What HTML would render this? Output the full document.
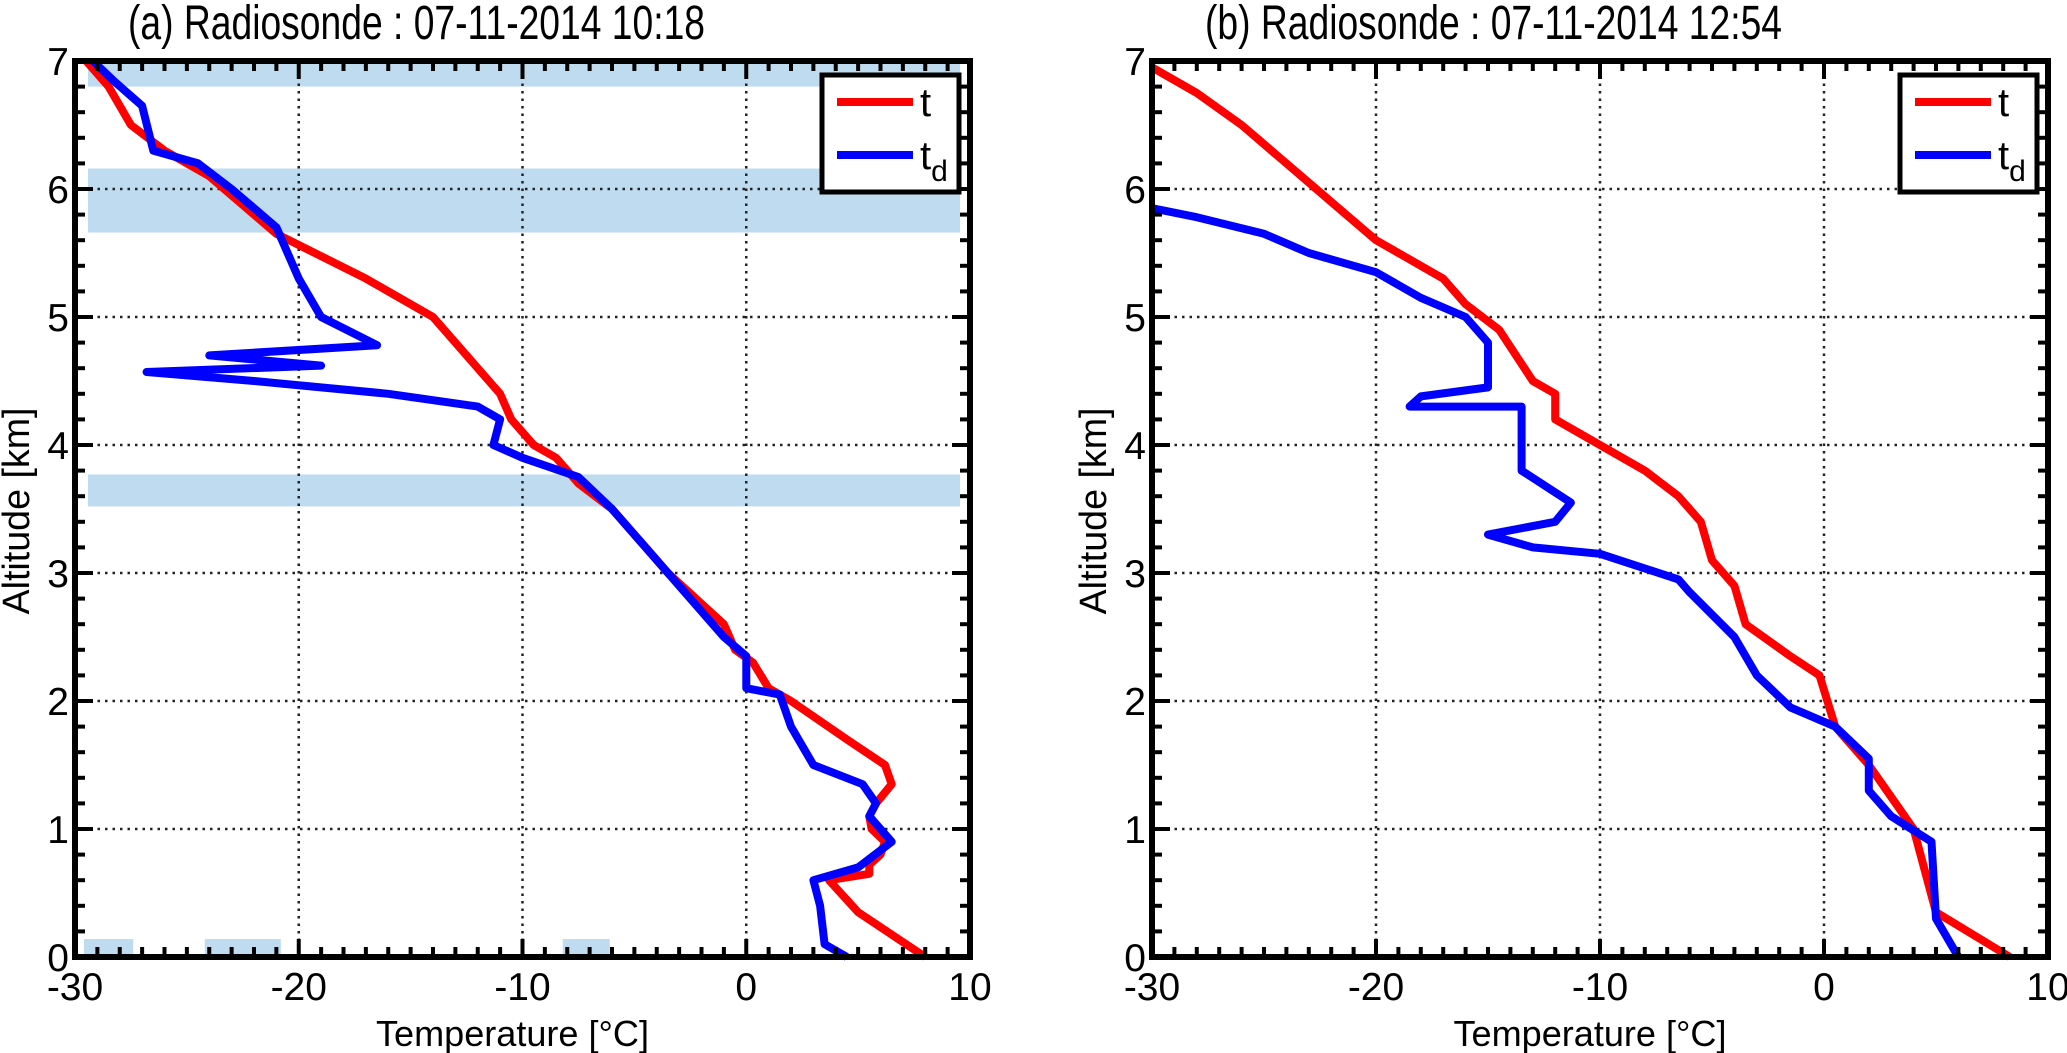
<!DOCTYPE html>
<html><head><meta charset="utf-8"><style>
html,body{margin:0;padding:0;background:#fff;}
svg{display:block;font-family:"Liberation Sans",Arial,sans-serif;}
</style></head><body>
<svg id="fig" width="2067" height="1053" viewBox="0 0 2067 1053"></svg>
<script>
// Panel (a) data: temperature t
const aT_temp = [8,5,3.7,5.5,5.5,6,6.2,5.6,5.5,5.8,6.5,6.2,4.5,2,1,0.3,-0.5,-1,-3.5,-4.5,-6,-7.5,-8.5,-9.5,-10.5,-11,-12,-13,-14,-17,-21,-24,-25,-26,-27.5,-28.5,-29.5];
const aT_alt  = [0,0.35,0.6,0.65,0.72,0.8,0.9,1.0,1.1,1.2,1.35,1.5,1.7,2.0,2.1,2.3,2.4,2.6,3.0,3.2,3.5,3.7,3.9,4.0,4.2,4.4,4.6,4.8,5.0,5.3,5.65,6.1,6.2,6.3,6.5,6.8,7.0];
// Panel (a) data: dew point td
const aD_temp = [4.5,3.5,3.3,3,5,6.5,5.5,5.8,5.2,3,2,1.5,0,0,-1,-3,-4.5,-6,-7.5,-10,-11.3,-11,-12,-16,-22,-26.8,-19,-24,-16.5,-19,-20,-21,-23,-24.5,-26.5,-27,-28.3,-29.2];
const aD_alt  = [0,0.1,0.4,0.6,0.7,0.9,1.1,1.2,1.35,1.5,1.8,2.05,2.1,2.35,2.5,2.9,3.2,3.5,3.75,3.9,4.0,4.2,4.3,4.4,4.5,4.57,4.62,4.7,4.78,5.0,5.3,5.7,6.0,6.2,6.3,6.65,6.85,7.0];
// Panel (b) data
const bT_temp = [8.3,5,4,2,0.5,-0.2,-1.5,-3.5,-4,-5,-5.5,-6.5,-8,-10,-12,-12,-13,-14.5,-16,-17,-20,-22,-24,-26,-28,-30];
const bT_alt  = [0,0.35,1.0,1.5,1.8,2.2,2.35,2.6,2.9,3.1,3.4,3.6,3.8,4.0,4.2,4.4,4.5,4.9,5.1,5.3,5.6,5.9,6.2,6.5,6.75,6.95];
const bD_temp = [6,5,4.8,3,2,2,0.5,-1.5,-3,-4,-6,-6.5,-10,-13,-15,-12,-11.3,-13.5,-13.5,-18.5,-18,-15,-15,-16,-18,-20,-23,-25,-28,-30];
const bD_alt  = [0,0.3,0.9,1.1,1.3,1.55,1.8,1.95,2.2,2.5,2.85,2.95,3.15,3.2,3.3,3.4,3.55,3.8,4.3,4.3,4.38,4.45,4.8,5.0,5.15,5.35,5.5,5.65,5.78,5.85];
// Shaded bands panel (a): altitude ranges (km)
const bandLo = [6.8,5.66,3.52];
const bandHi = [7.0,6.16,3.77];
// bottom blocks panel (a): temperature ranges
const blockLo = [-29.6,-24.2,-8.2];
const blockHi = [-27.4,-20.8,-6.1];
const blockTop = 0.14;
const xTicks = [-30,-20,-10,0,10];
const yTicks = [0,1,2,3,4,5,6,7];

const NS="http://www.w3.org/2000/svg";
const svg=document.getElementById('fig');
function mk(tag,attrs,parent){const e=document.createElementNS(NS,tag);for(const k in attrs)e.setAttribute(k,attrs[k]);(parent||svg).appendChild(e);return e;}

function panel(p){
  const g=mk('g',{});
  
  
  const L=p.left,R=p.right,T=61,B=957;
  const sx=v=>L+(v+30)/40*(R-L);
  const sy=v=>B-v/7*(B-T);
  if(p.bands){
    for(let i=0;i<bandLo.length;i++){
      const r=mk('rect',{x:L+13,y:sy(bandHi[i]),width:R-L-23,height:sy(bandLo[i])-sy(bandHi[i]),fill:'#bfdbf0'},g);
      
      
    }
    for(let i=0;i<blockLo.length;i++){
      const r=mk('rect',{x:sx(blockLo[i]),y:sy(blockTop),width:sx(blockHi[i])-sx(blockLo[i]),height:sy(0)-sy(blockTop),fill:'#bfdbf0'},g);
      
      
    }
  }
  xTicks.forEach(v=>{if(v>-30&&v<10){const l=mk('line',{x1:sx(v),x2:sx(v),y1:T,y2:B,stroke:'#222','stroke-width':2.5,'stroke-dasharray':'2.5 5'},g);}});
  yTicks.forEach(v=>{if(v>0&&v<7){const l=mk('line',{x1:L,x2:R,y1:sy(v),y2:sy(v),stroke:'#222','stroke-width':2.5,'stroke-dasharray':'2.5 5'},g);}});
  function series(tx,ax,col,nm){
    let d='';for(let i=0;i<tx.length;i++)d+=(i?'L':'M')+sx(tx[i]).toFixed(1)+' '+sy(ax[i]).toFixed(1);
    const pth=mk('path',{d:d,fill:'none',stroke:col,'stroke-width':8,'stroke-linejoin':'round'},g);
    
    
  }
  series(p.t[0],p.t[1],'#ff0000','temperature-line');
  series(p.d[0],p.d[1],'#0000ff','dewpoint-line');
  for(let v=-30;v<=10;v++){const maj=v%10===0,len=maj?18:10,x=sx(v);
    mk('line',{x1:x,x2:x,y1:B,y2:B-len,stroke:'#000','stroke-width':4},g);
    mk('line',{x1:x,x2:x,y1:T,y2:T+len,stroke:'#000','stroke-width':4},g);}
  for(let k=0;k<=35;k++){const v=k/5,maj=k%5===0,len=maj?18:10,y=sy(v);
    mk('line',{x1:L,x2:L+len,y1:y,y2:y,stroke:'#000','stroke-width':4},g);
    mk('line',{x1:R,x2:R-len,y1:y,y2:y,stroke:'#000','stroke-width':4},g);}
  const box=mk('rect',{x:L,y:T,width:R-L,height:B-T,fill:'none',stroke:'#000','stroke-width':6},g);
  
  
  xTicks.forEach(v=>{const t=mk('text',{x:sx(v),y:1000,'font-size':39,'text-anchor':'middle'},g);t.textContent=String(v);});
  yTicks.forEach(v=>{const t=mk('text',{x:L-6,y:sy(v)+14,'font-size':39,'text-anchor':'end'},g);t.textContent=String(v);});
  const xl=mk('text',{x:(L+R)/2-10,y:1046,'font-size':36,'text-anchor':'middle',textLength:273,lengthAdjust:'spacingAndGlyphs'},g);
  xl.textContent='Temperature [°C]';
  const yl=mk('text',{x:0,y:0,'font-size':38,'text-anchor':'middle',textLength:207,lengthAdjust:'spacingAndGlyphs',transform:`translate(${L-46},511) rotate(-90)`},g);
  yl.textContent='Altitude [km]';
  const ti=mk('text',{x:p.titleX,y:39,'font-size':48,textLength:577,lengthAdjust:'spacingAndGlyphs'},g);
  ti.textContent=p.title;
  const lg=mk('g',{},g);
  
  
  const lx=R-148;
  mk('rect',{x:lx,y:75,width:137,height:117,fill:'#fff',stroke:'#000','stroke-width':5},lg);
  mk('line',{x1:lx+15,x2:lx+91,y1:102,y2:102,stroke:'#ff0000','stroke-width':8},lg);
  mk('line',{x1:lx+15,x2:lx+91,y1:155,y2:155,stroke:'#0000ff','stroke-width':8},lg);
  const t1=mk('text',{x:lx+98,y:116,'font-size':40},lg);t1.textContent='t';
  
  const t2=mk('text',{x:lx+98,y:169,'font-size':40},lg);t2.textContent='t';
  const sb=mk('tspan',{dy:12,'font-size':30},t2);sb.textContent='d';
  
}
panel({name:'panel-a',left:75,right:970,bands:true,t:[aT_temp,aT_alt],d:[aD_temp,aD_alt],title:'(a)  Radiosonde : 07-11-2014  10:18',titleX:128});
panel({name:'panel-b',left:1152,right:2048,bands:false,t:[bT_temp,bT_alt],d:[bD_temp,bD_alt],title:'(b)  Radiosonde : 07-11-2014  12:54',titleX:1205});
</script>
</body></html>
